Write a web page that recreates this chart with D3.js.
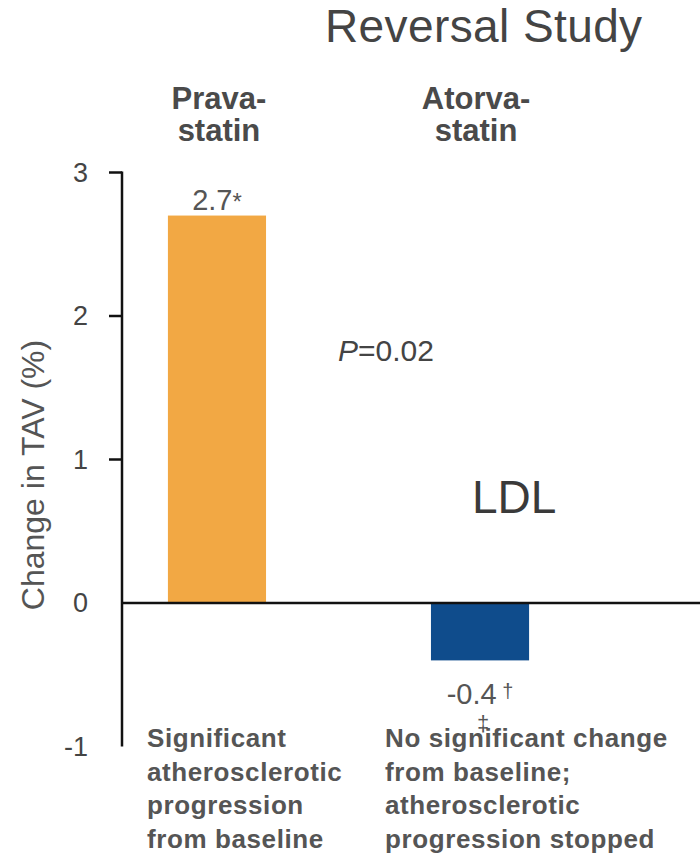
<!DOCTYPE html>
<html>
<head>
<meta charset="utf-8">
<script src="https://cdn.jsdelivr.net/npm/d3@7"></script>
<style>
  html, body { margin: 0; padding: 0; background: #fff; }
  svg { display: block; font-family: "Liberation Sans", Arial, sans-serif; }
</style>
</head>
<body>
<svg id="chart" width="700" height="855"></svg>
<script>
// Change in total atheroma volume by statin arm
const categories = ["Pravastatin", "Atorvastatin"];
const headerLines = [["Prava-", "statin"], ["Atorva-", "statin"]];
const changeTAV = [2.7, -0.4];
const valueText = ["2.7", "-0.4"];
const valueMarks = ["*", " \u2020"];
const barColors = ["#F2A844", "#0F4C8C"];
const yTicks = [3, 2, 1, 0, -1];
const yTickMarks = [3, 2, 1];
const outcomeLines = [
  ["Significant", "atherosclerotic", "progression", "from baseline"],
  ["No significant change", "from baseline;", "atherosclerotic", "progression stopped"]
];

const svg = d3.select("#chart");
const axisX = 122;

const y = d3.scaleLinear().domain([-1, 3]).range([746.5, 172.5]);
const x = d3.scaleBand().domain(categories).range([89, 608])
  .paddingInner(0.627).paddingOuter(0.3);
const bw = x.bandwidth();

// Title and annotations
svg.append("text").attr("x", 325).attr("y", 42)
  .attr("font-size", 46).attr("letter-spacing", 0.4)
  .attr("fill", "#444").text("Reversal Study");

svg.append("text").attr("x", 472).attr("y", 513)
  .attr("font-size", 46).attr("fill", "#3a3a3a").text("LDL");

const pText = svg.append("text").attr("x", 338).attr("y", 361)
  .attr("font-size", 30).attr("fill", "#444");
pText.append("tspan").attr("font-style", "italic").text("P");
pText.append("tspan").text("=0.02");

// Column headers
categories.forEach((c, i) => {
  const cx = x(c) + bw / 2 + (i === 0 ? 2 : -4);
  const t = svg.append("text")
    .attr("text-anchor", "middle").attr("font-size", 31)
    .attr("font-weight", "bold").attr("fill", "#4a4a4a");
  headerLines[i].forEach((ln, j) => {
    t.append("tspan").attr("x", cx).attr("y", 109 + j * 32).text(ln);
  });
});

// Bars
svg.selectAll("rect.bar").data(categories).join("rect")
  .attr("class", "bar")
  .attr("x", d => x(d))
  .attr("width", bw)
  .attr("y", (d, i) => y(Math.max(0, changeTAV[i])))
  .attr("height", (d, i) => Math.abs(y(changeTAV[i]) - y(0)))
  .attr("fill", (d, i) => barColors[i]);

// Y axis labels (tick marks drawn separately)
const yAxis = d3.axisLeft(y).tickValues(yTicks).tickSize(0).tickPadding(34)
  .tickFormat(d => String(d));
const gy = svg.append("g").attr("transform", `translate(${axisX},0)`).call(yAxis);
gy.select(".domain").remove();
gy.selectAll("text").attr("font-size", 27).attr("fill", "#444")
  .attr("font-family", "'Liberation Sans', Arial, sans-serif");

svg.selectAll("line.tick").data(yTickMarks).join("line")
  .attr("class", "tick")
  .attr("x1", axisX - 13).attr("x2", axisX)
  .attr("y1", d => y(d)).attr("y2", d => y(d))
  .attr("stroke", "#111").attr("stroke-width", 2.5);

svg.append("line")
  .attr("x1", axisX).attr("x2", axisX)
  .attr("y1", y(3) - 1).attr("y2", y(-1))
  .attr("stroke", "#111").attr("stroke-width", 2.5);

svg.append("line")
  .attr("x1", axisX).attr("x2", 700)
  .attr("y1", y(0)).attr("y2", y(0))
  .attr("stroke", "#111").attr("stroke-width", 2.5);

// Y axis title
svg.append("text")
  .attr("transform", "translate(44,475) rotate(-90)")
  .attr("text-anchor", "middle").attr("font-size", 32).attr("fill", "#555")
  .text("Change in TAV (%)");

// Value labels
categories.forEach((c, i) => {
  const v = changeTAV[i];
  const ty = v >= 0 ? y(v) - 6 : y(v) + 44;
  const t = svg.append("text").attr("x", x(c) + bw / 2)
    .attr("y", ty).attr("text-anchor", "middle")
    .attr("font-size", 29).attr("fill", "#555");
  t.append("tspan").text(valueText[i]);
  if (v >= 0) {
    t.append("tspan").attr("font-size", 24).text(valueMarks[i]);
  } else {
    t.append("tspan").attr("font-size", 20).attr("dy", -6).text(valueMarks[i]);
  }
});

// Double dagger below the negative value
svg.append("text").attr("x", x(categories[1]) + bw / 2 + 3).attr("y", 731)
  .attr("text-anchor", "middle").attr("font-size", 22).attr("fill", "#555")
  .text("\u2021");

// Outcome descriptions
const outX = [147, 385];
outcomeLines.forEach((lines, i) => {
  const t = svg.append("text").attr("font-size", 26).attr("font-weight", "bold")
    .attr("fill", "#555").attr("letter-spacing", 0.6);
  lines.forEach((ln, j) => {
    t.append("tspan").attr("x", outX[i]).attr("y", 747 + j * 33.7).text(ln);
  });
});
</script>
</body>
</html>
